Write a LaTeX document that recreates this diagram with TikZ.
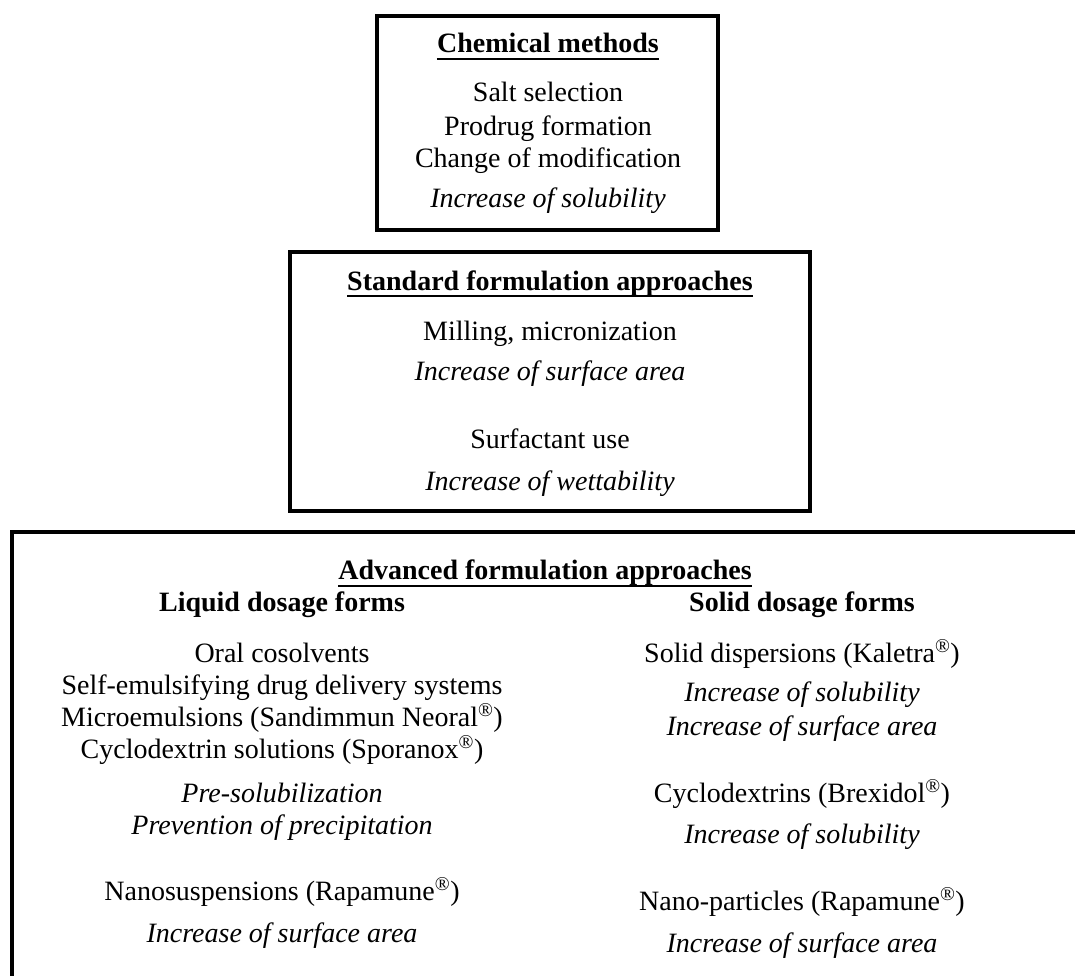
\documentclass[tikz,border=0pt]{standalone}
\usepackage{fontspec}
\setmainfont{Liberation Serif}
\begin{document}
\begin{tikzpicture}[x=1pt,y=-1pt]
\tikzset{
  frame/.style={line width=3.5pt, draw=black, line join=miter},
  uline/.style={line width=1.6pt},
  txt/.style={anchor=base, inner sep=0pt, font=\fontsize{28}{32}\selectfont},
  itxt/.style={txt, font=\fontsize{28}{32}\selectfont\itshape},
  head/.style={txt, font=\fontsize{28}{32}\selectfont\bfseries},
}
\useasboundingbox (0,0) rectangle (1075,976);

% frames
\draw[frame] (377,16) rectangle (718,230);
\draw[frame] (290,252) rectangle (810,511);
\draw[frame] (1080,532) -- (12,532) -- (12,981);

% box 1
\node[head] (h1) at (548,53) {Chemical methods};
\draw[uline] ([yshift=-6pt]h1.base west) -- ([yshift=-6pt]h1.base east);
\node[txt] (c1) at (548,102) {Salt selection};
\node[txt] (c2) at (548,136) {Prodrug formation};
\node[txt] (c3) at (548,168) {Change of modification};
\node[itxt] (c4) at (548,208) {Increase of solubility};

% box 2
\node[head] (h2) at (550,290) {Standard formulation approaches};
\draw[uline] ([yshift=-6pt]h2.base west) -- ([yshift=-6pt]h2.base east);
\node[txt] (s1) at (550,340) {Milling, micronization};
\node[itxt] (s2) at (550,380) {Increase of surface area};
\node[txt] (s3) at (550,448) {Surfactant use};
\node[itxt] (s4) at (550,490) {Increase of wettability};

% box 3
\node[head] (h3) at (545,579) {Advanced formulation approaches};
\draw[uline] ([yshift=-7pt]h3.base west) -- ([yshift=-7pt]h3.base east);
\node[head] (lh) at (282,611) {Liquid dosage forms};
\node[head] (rh) at (802,611) {Solid dosage forms};

\node[txt] (l1) at (282,662) {Oral cosolvents};
\node[txt] (l2) at (282,694) {Self-emulsifying drug delivery systems};
\node[txt] (l3) at (282,726) {Microemulsions (Sandimmun Neoral\textsuperscript{®})};
\node[txt] (l4) at (282,758) {Cyclodextrin solutions (Sporanox\textsuperscript{®})};
\node[itxt] (l5) at (282,802) {Pre-solubilization};
\node[itxt] (l6) at (282,834) {Prevention of precipitation};
\node[txt] (l7) at (282,900) {Nanosuspensions (Rapamune\textsuperscript{®})};
\node[itxt] (l8) at (282,942) {Increase of surface area};

\node[txt] (r1) at (802,662) {Solid dispersions (Kaletra\textsuperscript{®})};
\node[itxt] (r2) at (802,701) {Increase of solubility};
\node[itxt] (r3) at (802,735) {Increase of surface area};
\node[txt] (r4) at (802,802) {Cyclodextrins (Brexidol\textsuperscript{®})};
\node[itxt] (r5) at (802,843) {Increase of solubility};
\node[txt] (r6) at (802,910) {Nano-particles (Rapamune\textsuperscript{®})};
\node[itxt] (r7) at (802,952) {Increase of surface area};
\end{tikzpicture}
\end{document}
